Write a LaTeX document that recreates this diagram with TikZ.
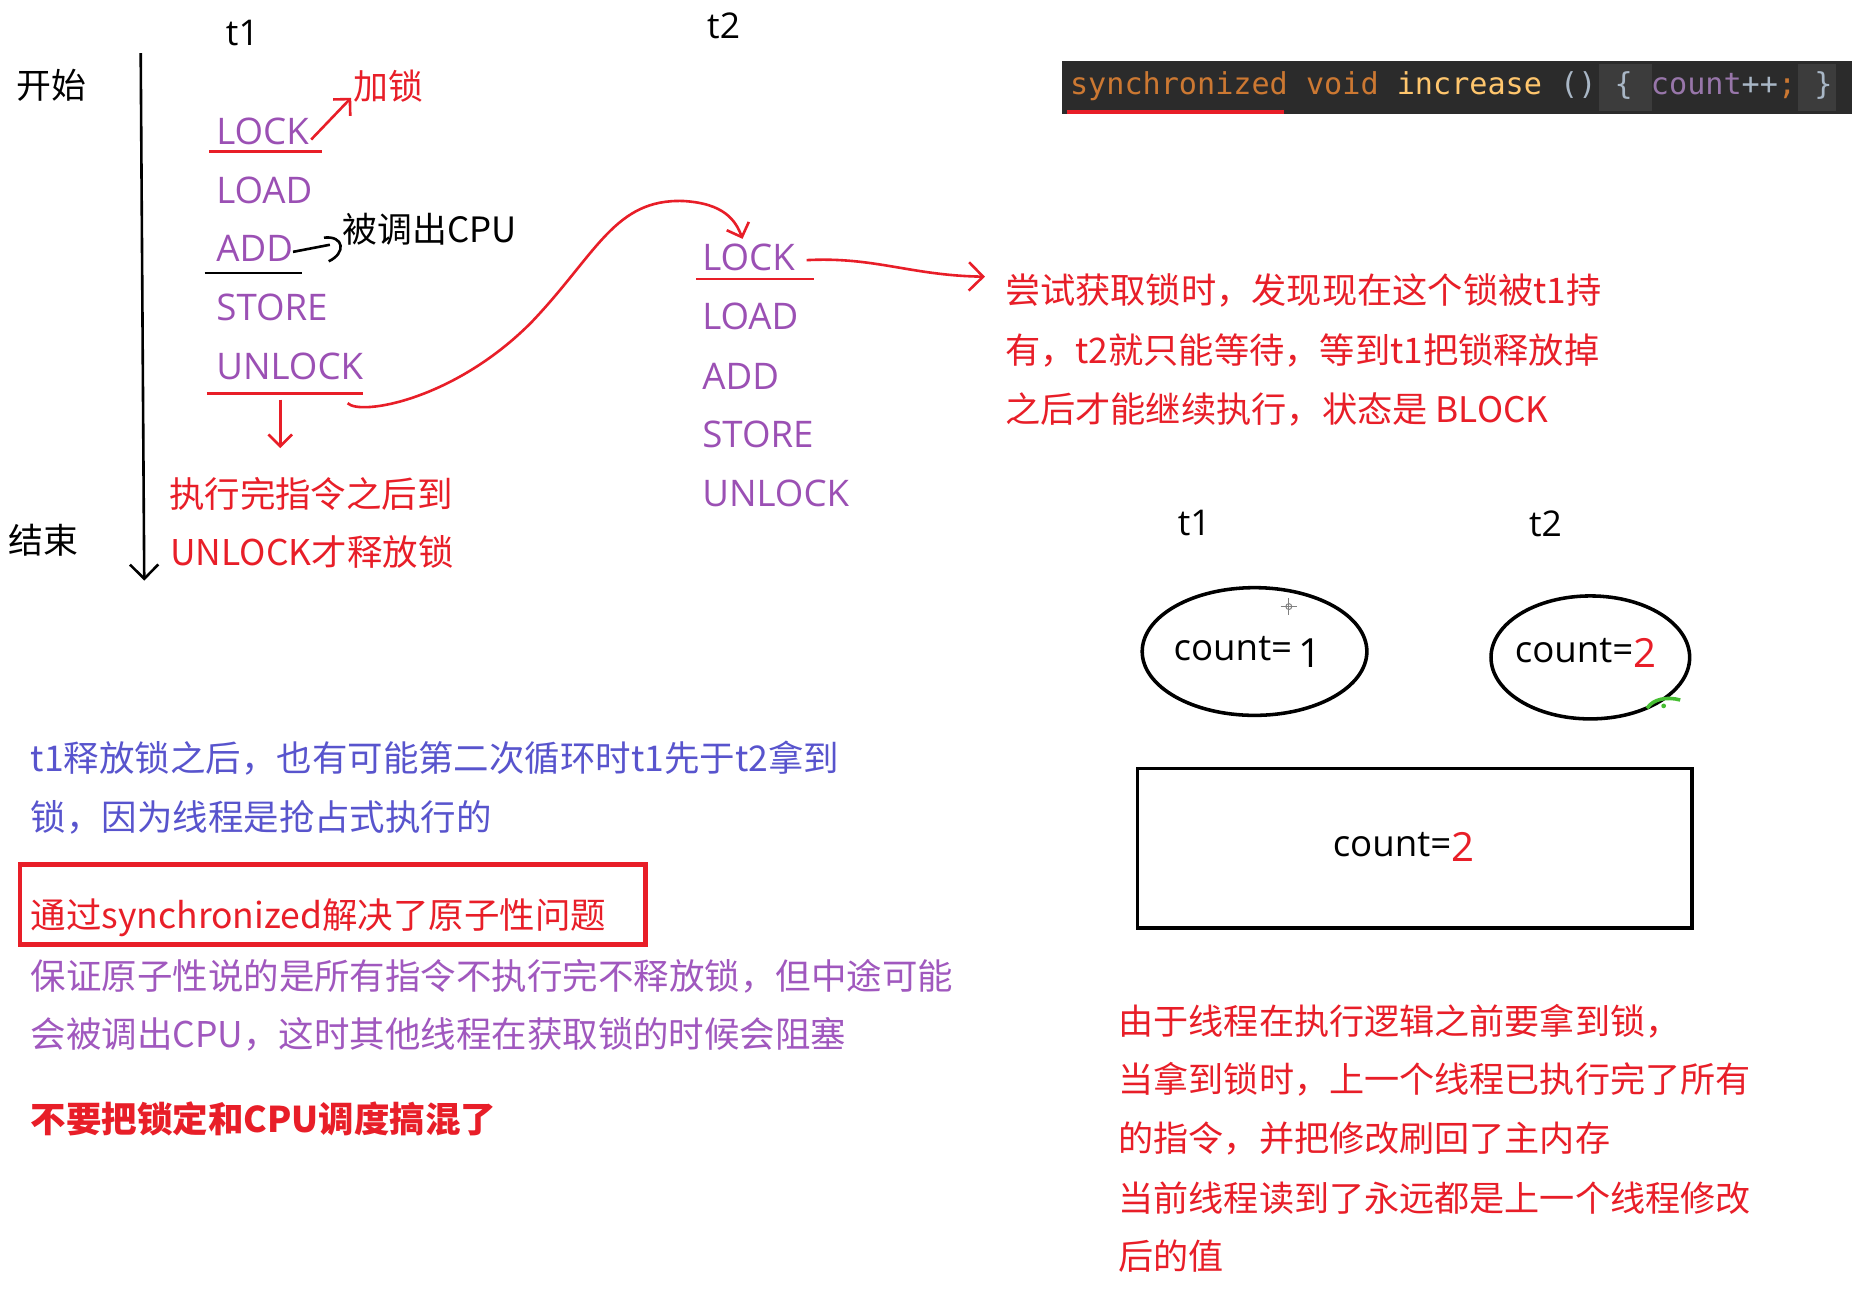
\documentclass[tikz,border=0pt]{standalone}
\usepackage{fontspec}
\setmainfont{Open Sans}
\newfontfamily\cjk{Noto Sans CJK SC}
\newfontfamily\codefont{DejaVu Sans Mono}
\usetikzlibrary{arrows.meta,shapes.geometric}
\definecolor{redc}{RGB}{232,30,40}
\definecolor{purp}{RGB}{155,80,180}
\definecolor{bluev}{RGB}{88,84,205}
\definecolor{purp2}{RGB}{160,88,190}
\definecolor{codebg}{RGB}{43,43,43}
\definecolor{codehl}{RGB}{60,60,60}
\definecolor{kw}{RGB}{204,120,50}
\definecolor{fn}{RGB}{255,198,109}
\definecolor{plain}{RGB}{169,183,198}
\definecolor{field}{RGB}{152,118,170}
\definecolor{greenm}{RGB}{70,190,50}
\begin{document}
\begin{tikzpicture}[x=0.5pt,y=-0.5pt,
  every node/.style={inner sep=0pt, outer sep=0pt},
  instr/.style={anchor=west, text=purp, font=\fontsize{15.5}{18}\selectfont},
  zh/.style={anchor=west, font=\cjk\fontsize{#1}{18}\selectfont},
  zh/.default=14.75,
  lbl/.style={font=\fontsize{15}{18}\selectfont},
  cnt/.style={font=\fontsize{15.5}{18}\selectfont},
  redpen/.style={draw=redc, line width=1.1pt},
  barb/.style={-{Straight Barb[length=5pt,width=10pt]}},
  shapeline/.style={draw=black, line width=1.5pt},
]
\useasboundingbox[fill=white] (0,0) rectangle (1568,1098);

% ---------- left timeline ----------
\node[lbl] (t1top) at (205,28) {t1};
\node[lbl] (t2top) at (612,22) {t2};
\node[zh] (start) at (14,72) {开始};
\node[zh] (end) at (7,457) {结束};
\coordinate (tlA) at (119,45);
\coordinate (tlB) at (122,491);
\draw[line width=1.1pt, -{Straight Barb[length=6pt,width=12pt]}] (tlA) -- (tlB);

% t1 instructions
\node[instr] (lock1) at (183,111) {LOCK};
\node[instr] (load1) at (183,161) {LOAD};
\node[instr] (add1) at (183,210) {ADD};
\node[instr] (store1) at (183,260) {STORE};
\node[instr] (unlock1) at (183,310) {UNLOCK};
\draw[redpen] (177,128) -- (272,128);
\draw[line width=1.1pt] (173,231) -- (255,231);
\draw[redpen] (175,333) -- (307,333);

\node[zh, text=redc] (jiasuo) at (299,73) {加锁};
\draw[redpen, barb] ([xshift=1pt,yshift=-3.5pt]lock1.east) -- ([xshift=-1pt,yshift=2pt]jiasuo.south west);

\node[zh] (bei) at (290,194) {被调出CPU};
\coordinate (addA) at (279,207);
\coordinate (curlA) at (274,201);
\coordinate (curlB) at (278,221);
\draw[line width=1.1pt] ([yshift=-1.5pt]add1.east) -- (addA)
  (curlA) .. controls (291,199) and (293,214) .. (curlB);

\coordinate (dnA) at (237,338);
\coordinate (dnB) at (237,379);
\draw[redpen, barb] (dnA) -- (dnB);
\node[zh=15, text=redc] (exec) at (143,418) {执行完指令之后到};
\node[zh=15, text=redc] (unl) at (144,467) {UNLOCK才释放锁};

% t2 instructions
\node[instr] (lock2) at (594,218) {LOCK};
\node[instr] (load2) at (594,268) {LOAD};
\node[instr] (add2) at (594,318) {ADD};
\node[instr] (store2) at (594,367) {STORE};
\node[instr] (unlock2) at (594,417) {UNLOCK};
\draw[redpen] (589,236) -- (688,236);

\coordinate (curveA) at (294,341);
\coordinate (lk2top) at (628,202);
\draw[redpen, barb] (curveA) .. controls (305,352) and (385,338) .. (450,272)
  .. controls (505,214) and (520,168) .. (578,170)
  .. controls (612,172) and (622,186) .. (lk2top);

\node[zh=14.9, text=redc] (p1) at (850,246) {尝试获取锁时，发现现在这个锁被t1持};
\node[zh=14.9, text=redc] (p2) at (850,296) {有，t2就只能等待，等到t1把锁释放掉};
\node[zh=14.9, text=redc] (p3) at (850,346) {之后才能继续执行，状态是 BLOCK};
\coordinate (blkA) at (833,234);
\draw[redpen, -{Straight Barb[length=6pt,width=12pt]}] ([xshift=5pt,yshift=-1pt]lock2.east) .. controls (740,217) and (770,233) .. (blkA);

% ---------- code bar ----------
\fill[codebg] (898,52) rectangle (1566,96);
\fill[codehl] (1352,54) rectangle (1397,94);
\fill[codehl] (1521,54) rectangle (1553,94);
\node[anchor=west, font=\codefont\fontsize{12.75}{15}\selectfont] (code) at (905,73)
  {\textcolor{kw}{synchronized void} \textcolor{fn}{increase} \textcolor{plain}{() \{} \textcolor{field}{count}\textcolor{plain}{++}\textcolor{kw}{;} \textcolor{plain}{\}}};
\draw[draw=redc, line width=1.5pt] (902,94.5) -- (1086,94.5);

% ---------- memory model ----------
\node[lbl] (t1r) at (1010,442) {t1};
\node[lbl] (t2r) at (1307,443) {t2};
\draw[shapeline] (1061,551) ellipse (95 and 54);
\draw[shapeline] (1345,556) ellipse (84 and 52);
\node[cnt] (c1) at (1055,551) {count=\,\raisebox{-3pt}{\fontsize{17}{20}\selectfont 1}};
\node[cnt] (c2) at (1341,552) {count=\raisebox{-2pt}{\textcolor{redc}{\fontsize{17}{20}\selectfont 2}}};
\draw[shapeline] (962,650) rectangle (1431,785);
\node[cnt] (cm) at (1187,716) {count=\raisebox{-2pt}{\textcolor{redc}{\fontsize{17}{20}\selectfont 2}}};
\draw[gray, line width=0.5pt] (1083,513) -- (1097,513) (1090,506) -- (1090,520);
\draw[gray, line width=0.4pt] (1090,513) circle (2.5);
\draw[greenm, line width=1.5pt] (1393,599) .. controls (1398,591) and (1410,589) .. (1421,592);
\fill[greenm] (1407,597) circle (2);

\node[zh=14.85, text=redc] (r1) at (946,864) {由于线程在执行逻辑之前要拿到锁，};
\node[zh=14.85, text=redc] (r2) at (946,913) {当拿到锁时，上一个线程已执行完了所有};
\node[zh=14.85, text=redc] (r3) at (946,963) {的指令，并把修改刷回了主内存};
\node[zh=14.85, text=redc] (r4) at (946,1013) {当前线程读到了永远都是上一个线程修改};
\node[zh=14.85, text=redc] (r5) at (946,1062) {后的值};

% ---------- left bottom notes ----------
\node[zh=15, text=bluev] (n1) at (26,641) {t1释放锁之后，也有可能第二次循环时t1先于t2拿到};
\node[zh=15, text=bluev] (n2) at (26,691) {锁，因为线程是抢占式执行的};
\draw[draw=redc, line width=2pt] (17,731) rectangle (546,799);
\node[zh=15, text=redc] (n3) at (26,776) {通过synchronized解决了原子性问题};
\node[zh=15, text=purp2] (n4) at (26,826) {保证原子性说的是所有指令不执行完不释放锁，但中途可能};
\node[zh=15, text=purp2] (n5) at (26,875) {会被调出CPU，这时其他线程在获取锁的时候会阻塞};
\node[anchor=west, text=redc, font=\cjk\bfseries\fontsize{15}{18}\selectfont] (n6) at (26,946) {不要把锁定和CPU调度搞混了};
\end{tikzpicture}
\end{document}
